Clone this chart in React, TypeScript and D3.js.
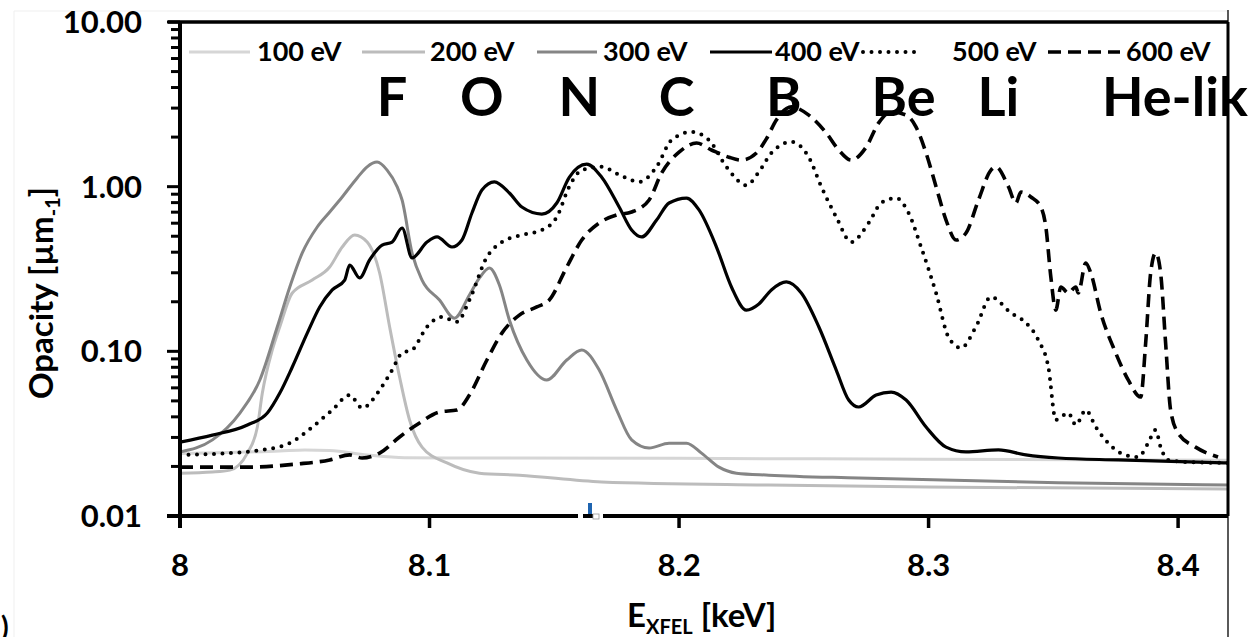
import React from "react";
import * as d3 from "d3";

type Pt = [number, number];

// photon energy [keV], opacity [1/um]
const s100: Pt[] = [
  [8.0, 0.024], [8.02, 0.0243], [8.04, 0.0248], [8.05, 0.0252], [8.06, 0.025],
  [8.075, 0.0235], [8.09, 0.0226], [8.12, 0.0225], [8.2, 0.0224], [8.3, 0.0221], [8.42, 0.0218],
];

const s200: Pt[] = [
  [8.0, 0.0182], [8.013, 0.0185], [8.02, 0.019], [8.027, 0.0241], [8.031, 0.0347], [8.033, 0.0558],
  [8.037, 0.102], [8.04, 0.141], [8.045, 0.226], [8.053, 0.271], [8.06, 0.325], [8.065, 0.43],
  [8.07, 0.509], [8.075, 0.461], [8.08, 0.299], [8.084, 0.141], [8.088, 0.0698], [8.092, 0.0383],
  [8.097, 0.0262], [8.107, 0.021], [8.12, 0.0182], [8.136, 0.0177], [8.169, 0.0161], [8.236, 0.0154],
  [8.3, 0.015], [8.42, 0.0146],
];

const s300: Pt[] = [
  [8.0, 0.0245], [8.013, 0.029], [8.024, 0.0422], [8.032, 0.067], [8.039, 0.141], [8.044, 0.246],
  [8.049, 0.396], [8.055, 0.569], [8.06, 0.702], [8.065, 0.866], [8.071, 1.13], [8.075, 1.32],
  [8.079, 1.41], [8.083, 1.26], [8.087, 1.0], [8.089, 0.83], [8.093, 0.396], [8.097, 0.271],
  [8.104, 0.205], [8.11, 0.159], [8.116, 0.22], [8.12, 0.279], [8.124, 0.321], [8.128, 0.253],
  [8.132, 0.155], [8.139, 0.0886], [8.147, 0.067], [8.155, 0.0886], [8.161, 0.102], [8.168, 0.077],
  [8.175, 0.044], [8.181, 0.029], [8.188, 0.0259], [8.196, 0.0277], [8.203, 0.0277], [8.209, 0.0241],
  [8.216, 0.0198], [8.223, 0.0182], [8.236, 0.0177], [8.272, 0.017], [8.352, 0.0159], [8.42, 0.0154],
];

const s400: Pt[] = [
  [8.0, 0.0281], [8.013, 0.031], [8.027, 0.0357], [8.035, 0.0422], [8.04, 0.0558], [8.045, 0.0803],
  [8.051, 0.129], [8.056, 0.186], [8.061, 0.236], [8.066, 0.271], [8.068, 0.334], [8.072, 0.279],
  [8.076, 0.359], [8.081, 0.442], [8.085, 0.461], [8.089, 0.561], [8.093, 0.369], [8.099, 0.461],
  [8.103, 0.495], [8.109, 0.43], [8.113, 0.474], [8.117, 0.692], [8.121, 0.954], [8.126, 1.07],
  [8.132, 0.915], [8.137, 0.752], [8.145, 0.682], [8.151, 0.796], [8.156, 1.14], [8.163, 1.37],
  [8.169, 1.14], [8.176, 0.752], [8.181, 0.546], [8.185, 0.495], [8.191, 0.627], [8.196, 0.796],
  [8.203, 0.853], [8.208, 0.722], [8.215, 0.43], [8.221, 0.246], [8.227, 0.178], [8.232, 0.194],
  [8.237, 0.236], [8.243, 0.264], [8.249, 0.226], [8.256, 0.141], [8.263, 0.077], [8.268, 0.0506],
  [8.272, 0.0459], [8.279, 0.0543], [8.285, 0.0566], [8.291, 0.0506], [8.299, 0.0347], [8.307, 0.0262],
  [8.315, 0.0245], [8.328, 0.0252], [8.339, 0.0235], [8.352, 0.0225], [8.376, 0.0219], [8.42, 0.021],
];

const s500: Pt[] = [
  [8.0, 0.0235], [8.02, 0.0241], [8.033, 0.0252], [8.044, 0.0277], [8.053, 0.0347], [8.061, 0.044],
  [8.068, 0.0543], [8.073, 0.0453], [8.08, 0.0582], [8.085, 0.077], [8.089, 0.0977], [8.093, 0.102],
  [8.099, 0.141], [8.105, 0.162], [8.111, 0.151], [8.116, 0.205], [8.123, 0.374], [8.129, 0.461],
  [8.137, 0.509], [8.145, 0.546], [8.151, 0.654], [8.156, 1.0], [8.161, 1.26], [8.169, 1.32],
  [8.176, 1.18], [8.184, 1.07], [8.191, 1.32], [8.197, 1.92], [8.205, 2.15], [8.212, 1.92],
  [8.219, 1.32], [8.227, 1.02], [8.232, 1.23], [8.237, 1.6], [8.245, 1.87], [8.252, 1.51],
  [8.257, 1.0], [8.263, 0.654], [8.269, 0.461], [8.276, 0.602], [8.281, 0.796], [8.287, 0.853],
  [8.292, 0.692], [8.297, 0.43], [8.303, 0.226], [8.308, 0.122], [8.313, 0.105], [8.319, 0.141],
  [8.325, 0.214], [8.333, 0.171], [8.339, 0.149], [8.344, 0.117], [8.348, 0.0803], [8.351, 0.0383],
  [8.356, 0.0422], [8.359, 0.0357], [8.363, 0.044], [8.367, 0.0347], [8.372, 0.0277], [8.377, 0.0241],
  [8.384, 0.0228], [8.388, 0.0277], [8.391, 0.0333], [8.393, 0.0262], [8.396, 0.0219], [8.403, 0.0213],
  [8.42, 0.021],
];

const s600: Pt[] = [
  [8.0, 0.0198], [8.027, 0.0198], [8.047, 0.0207], [8.06, 0.0219], [8.068, 0.0235], [8.073, 0.0225],
  [8.08, 0.0241], [8.088, 0.0302], [8.096, 0.0367], [8.104, 0.0428], [8.111, 0.044], [8.116, 0.0543],
  [8.123, 0.0886], [8.129, 0.129], [8.136, 0.166], [8.143, 0.186], [8.148, 0.205], [8.155, 0.325],
  [8.161, 0.474], [8.168, 0.602], [8.175, 0.673], [8.181, 0.702], [8.188, 0.83], [8.193, 1.21],
  [8.2, 1.62], [8.207, 1.84], [8.213, 1.67], [8.22, 1.51], [8.225, 1.45], [8.231, 1.6],
  [8.235, 1.95], [8.239, 2.54], [8.245, 3.05], [8.252, 2.72], [8.259, 2.12], [8.264, 1.67],
  [8.269, 1.45], [8.275, 1.74], [8.28, 2.44], [8.285, 2.84], [8.291, 2.72], [8.295, 2.3],
  [8.299, 1.6], [8.303, 1.0], [8.307, 0.627], [8.311, 0.474], [8.315, 0.523], [8.32, 0.83],
  [8.325, 1.26], [8.327, 1.32], [8.332, 1.0], [8.335, 0.796], [8.337, 0.928], [8.341, 0.866],
  [8.345, 0.752], [8.347, 0.569], [8.349, 0.283], [8.351, 0.178], [8.353, 0.246], [8.356, 0.226],
  [8.359, 0.246], [8.36, 0.226], [8.363, 0.344], [8.365, 0.299], [8.369, 0.171], [8.375, 0.0977],
  [8.38, 0.067], [8.385, 0.0528], [8.387, 0.112], [8.389, 0.299], [8.391, 0.396], [8.393, 0.299],
  [8.395, 0.112], [8.397, 0.044], [8.4, 0.0319], [8.407, 0.0262], [8.416, 0.0228],
];

const legendNames = ["100 eV", "200 eV", "300 eV", "400 eV", "500 eV", "600 eV"];
const elements = ["F", "O", "N", "C", "B", "Be", "Li", "He-lik"];
const elementEnergy = [8.085, 8.121, 8.16, 8.199, 8.242, 8.29, 8.328, 8.369];
const xTicks = [8, 8.1, 8.2, 8.3, 8.4];
const xTickLabels = ["8", "8.1", "8.2", "8.3", "8.4"];
const yTicks = [0.01, 0.1, 1, 10];
const yTickLabels = ["0.01", "0.10", "1.00", "10.00"];

const seriesList = [s100, s200, s300, s400, s500, s600];
const styles = [
  { stroke: "#d6d6d6", dash: "none", width: 3, cap: "butt" },
  { stroke: "#bcbcbc", dash: "none", width: 3, cap: "butt" },
  { stroke: "#858585", dash: "none", width: 3, cap: "butt" },
  { stroke: "#000", dash: "none", width: 3.2, cap: "butt" },
  { stroke: "#000", dash: "0 8.5", width: 4, cap: "round" },
  { stroke: "#000", dash: "13 7", width: 3.6, cap: "butt" },
];
// legend layout: [line start, line end, text start]
const legendPos = [
  [189, 250, 257], [362, 425, 430], [537, 597, 603],
  [710, 772, 775], [863, 915, 952], [1048, 1120, 1126],
];

const W = 1251;
const H = 637;
const font = "Lato, 'Open Sans', sans-serif";

export default function App() {
  const x = d3.scaleLinear().domain([8, 8.42]).range([180, 1228]);
  const y = d3.scaleLog().domain([0.01, 10]).range([516, 22]);
  const line = d3
    .line<Pt>()
    .x((d) => x(d[0]))
    .y((d) => y(d[1]))
    .curve(d3.curveMonotoneX);

  const minor: number[] = [];
  [0.01, 0.1, 1].forEach((dec) => {
    for (let k = 2; k <= 9; k++) minor.push(dec * k);
  });

  const [x0, x1] = x.range();
  const [yb, yt] = y.range();

  return (
    <svg
      width={W}
      height={H}
      style={{ position: "absolute", left: 0, top: 0, display: "block", background: "#fff" }}
      fontFamily={font}
      fontWeight="bold"
    >
      <defs>
        <clipPath id="plot">
          <rect x={x0} y={yt} width={x1 - x0} height={yb - yt} />
        </clipPath>
      </defs>

      {/* faint image border */}
      <line x1={14} y1={11} x2={14} y2={H} stroke="#efefef" strokeWidth={1} />
      <line x1={14} y1={11} x2={1228} y2={11} stroke="#efefef" strokeWidth={1} />

      {/* curves */}
      <g clipPath="url(#plot)" fill="none">
        {seriesList.map((s, i) => (
          <path
            key={i}
            d={line(s) || ""}
            stroke={styles[i].stroke}
            strokeWidth={styles[i].width}
            strokeDasharray={styles[i].dash}
            strokeLinecap={styles[i].cap as any}
            strokeLinejoin="round"
          />
        ))}
      </g>

      {/* frame */}
      <line x1={x0 - 12} y1={yt} x2={x1} y2={yt} stroke="#000" strokeWidth={3.5} />
      <line x1={x0} y1={yt} x2={x0} y2={yb + 12} stroke="#000" strokeWidth={4} />
      <line x1={x0 - 13} y1={yb} x2={x1} y2={yb} stroke="#000" strokeWidth={4} />
      <line x1={x1} y1={yt} x2={x1} y2={yb} stroke="#000" strokeWidth={3} />
      <line x1={x1} y1={10} x2={x1} y2={H} stroke="#000" strokeWidth={1.3} />

      {/* y ticks */}
      {yTicks.map((t, i) => (
        <g key={t}>
          <line x1={x0 - 13} x2={x0} y1={y(t)} y2={y(t)} stroke="#000" strokeWidth={3} />
          <text x={142} y={y(t)} dy="0.36em" textAnchor="end" fontSize={31}>
            {yTickLabels[i]}
          </text>
        </g>
      ))}
      {minor.map((t) => (
        <line key={t} x1={x0 - 9} x2={x0} y1={y(t)} y2={y(t)} stroke="#000" strokeWidth={3} />
      ))}

      {/* x ticks */}
      {xTicks.map((t, i) => (
        <g key={t}>
          <line x1={x(t)} x2={x(t)} y1={yb} y2={yb + 12} stroke="#000" strokeWidth={3.5} />
          <text x={x(t)} y={576} textAnchor="middle" fontSize={31}>
            {xTickLabels[i]}
          </text>
        </g>
      ))}

      {/* axis glitch near 8.165 */}
      <rect x={578} y={512} width={25} height={8} fill="#fff" />
      <rect x={583} y={514} width={10} height={4} fill="#000" />
      <rect x={588} y={503} width={4} height={11} fill="#1f64b0" />
      <rect x={593} y={514} width={6} height={5} fill="#fff" stroke="#999" strokeWidth={0.8} />

      {/* axis titles */}
      <text x={627} y={627} fontSize={33}>
        E<tspan fontSize={20} dy={7}>XFEL</tspan>
        <tspan dy={-7}> [keV]</tspan>
      </text>
      <text transform="translate(53,293) rotate(-90)" textAnchor="middle" fontSize={33}>
        Opacity [µm<tspan fontSize={20} dy={7}>-1</tspan>
        <tspan dy={-7}>]</tspan>
      </text>

      {/* legend */}
      {legendNames.map((n, i) => (
        <g key={n}>
          <line
            x1={legendPos[i][0]}
            x2={legendPos[i][1]}
            y1={52}
            y2={52}
            stroke={styles[i].stroke}
            strokeWidth={styles[i].width}
            strokeDasharray={styles[i].dash}
            strokeLinecap={styles[i].cap as any}
          />
          <text x={legendPos[i][2]} y={61} fontSize={27}>
            {n}
          </text>
        </g>
      ))}

      {/* element labels */}
      {elements.map((e, i) => (
        <text
          key={e}
          x={i === elements.length - 1 ? 1102 : x(elementEnergy[i])}
          y={116}
          textAnchor={i === elements.length - 1 ? "start" : "middle"}
          fontSize={54}
        >
          {e}
        </text>
      ))}

      <text x={1} y={637} fontSize={28}>
        )
      </text>
    </svg>
  );
}
